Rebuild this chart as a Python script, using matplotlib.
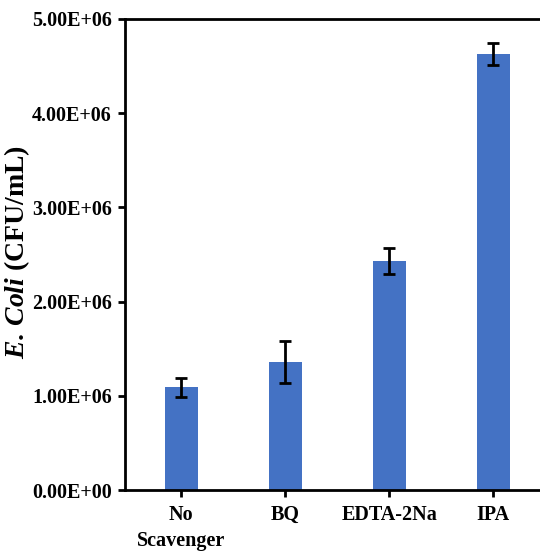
import matplotlib
matplotlib.use("Agg")
import matplotlib.pyplot as plt
from matplotlib.ticker import FuncFormatter

categories = ["No\nScavenger", "BQ", "EDTA-2Na", "IPA"]
values = [1.09e6, 1.36e6, 2.43e6, 4.63e6]
errors = [0.10e6, 0.22e6, 0.14e6, 0.12e6]
yticks = [0, 1e6, 2e6, 3e6, 4e6, 5e6]

plt.rcParams['font.family'] = ['Liberation Serif', 'DejaVu Serif']
plt.rcParams['font.weight'] = 'bold'
plt.rcParams['mathtext.fontset'] = 'custom'
plt.rcParams['mathtext.it'] = 'Liberation Serif:bold:italic'
plt.rcParams['mathtext.rm'] = 'Liberation Serif:bold'

fig = plt.figure(figsize=(5.4, 5.57), dpi=100)
ax = fig.add_axes([125/540, 1 - 490/557, 1 - 125/540, (490 - 19)/557])

x = list(range(len(categories)))
ax.bar(x, values, width=0.32, color='#4472C4', zorder=2)
ax.errorbar(x, values, yerr=errors, fmt='none', ecolor='black',
            elinewidth=2, capsize=4, capthick=2, zorder=3)

ax.set_xlim(-0.54, 3.45)
ax.set_ylim(0, 5e6)
ax.set_yticks(yticks)
ax.yaxis.set_major_formatter(FuncFormatter(lambda v, p: f"{v:.2E}"))
ax.set_xticks(x)
ax.set_xticklabels(categories, fontsize=14.5, fontweight='bold', linespacing=1.4)
for lab in ax.get_yticklabels():
    lab.set_fontsize(14.5)
    lab.set_fontweight('bold')

ax.spines['right'].set_visible(False)
for s in ['left', 'bottom', 'top']:
    ax.spines[s].set_linewidth(2)
ax.tick_params(axis='both', width=2, length=5, direction='out', colors='black')
ax.tick_params(axis='y', pad=4.5)
ax.tick_params(axis='x', pad=6)

fig.text(17/540, 1 - 252/557, r"$\mathit{E.\,Coli}$ (CFU/mL)", rotation=90,
         ha='center', va='center', fontsize=20, fontweight='bold')

fig.savefig("out.png", dpi=100)
